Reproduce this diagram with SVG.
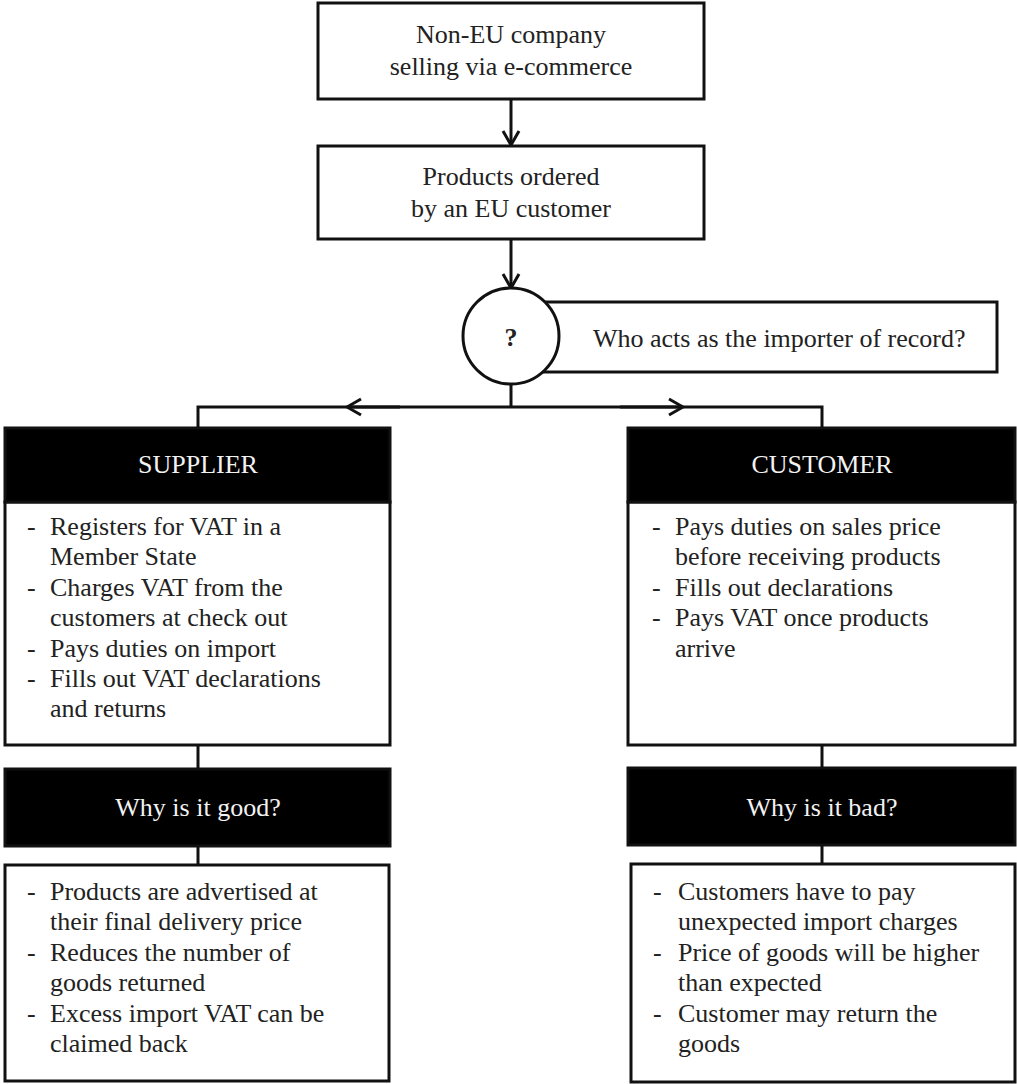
<svg xmlns="http://www.w3.org/2000/svg" width="1017" height="1084" viewBox="0 0 1017 1084">
  <style>
    text { font-family: "Liberation Serif", "Times New Roman", serif; font-size: 26px; fill: #222; }
    .c { text-anchor: middle; }
    .hd { fill: #f2f2f2; }
    .box { fill: #fff; stroke: #111; stroke-width: 3; }
    .head { fill: #000; stroke: #111; stroke-width: 3; }
    .ln { fill: none; stroke: #111; stroke-width: 3; }
  </style>
  <defs>
    <marker id="open" viewBox="0 0 20 20" refX="18" refY="10" markerWidth="20" markerHeight="20" markerUnits="userSpaceOnUse" orient="auto">
      <path d="M4,2 L18,10 L4,18" fill="none" stroke="#111" stroke-width="3"/>
    </marker>
  </defs>

  <!-- connectors -->
  <g id="connectors">
    <line class="ln" x1="511" y1="99" x2="511" y2="145" marker-end="url(#open)"/>
    <line class="ln" x1="511" y1="239" x2="511" y2="288" marker-end="url(#open)"/>
    <line class="ln" x1="511" y1="384" x2="511" y2="407"/>
    <polyline class="ln" points="511,407 198,407 198,428"/>
    <polyline class="ln" points="511,407 822,407 822,428"/>
    <line class="ln" x1="400" y1="407" x2="347" y2="407" marker-end="url(#open)"/>
    <line class="ln" x1="620" y1="407" x2="683" y2="407" marker-end="url(#open)"/>
    <line class="ln" x1="198" y1="745" x2="198" y2="769"/>
    <line class="ln" x1="198" y1="846" x2="198" y2="865"/>
    <line class="ln" x1="822" y1="745" x2="822" y2="768"/>
    <line class="ln" x1="822" y1="845" x2="822" y2="864"/>
  </g>

  <g id="start">
    <rect class="box" x="318" y="3" width="386" height="96"/>
    <text class="c" x="511" y="43">Non-EU company</text>
    <text class="c" x="511" y="75">selling via e-commerce</text>
  </g>

  <g id="ordered">
    <rect class="box" x="318" y="146" width="386" height="93"/>
    <text class="c" x="511" y="185">Products ordered</text>
    <text class="c" x="511" y="217">by an EU customer</text>
  </g>

  <g id="question">
    <rect class="box" x="520" y="302" width="477" height="70"/>
    <text x="593" y="347">Who acts as the importer of record?</text>
    <circle class="box" cx="511" cy="336" r="48"/>
    <text class="c" x="511" y="346" font-weight="bold">?</text>
  </g>

  <g id="supplier">
    <rect class="box" x="5" y="502" width="385" height="243"/>
    <rect class="head" x="5" y="428" width="385" height="74"/>
    <text class="c hd" x="198" y="473">SUPPLIER</text>
    <text x="27" y="535">-</text><text x="50" y="535">Registers for VAT in a</text>
    <text x="50" y="565">Member State</text>
    <text x="27" y="596">-</text><text x="50" y="596">Charges VAT from the</text>
    <text x="50" y="626">customers at check out</text>
    <text x="27" y="657">-</text><text x="50" y="657">Pays duties on import</text>
    <text x="27" y="687">-</text><text x="50" y="687">Fills out VAT declarations</text>
    <text x="50" y="717">and returns</text>
  </g>

  <g id="customer">
    <rect class="box" x="628" y="502" width="387" height="243"/>
    <rect class="head" x="628" y="428" width="387" height="74"/>
    <text class="c hd" x="822" y="473">CUSTOMER</text>
    <text x="652" y="535">-</text><text x="675" y="535">Pays duties on sales price</text>
    <text x="675" y="565">before receiving products</text>
    <text x="652" y="596">-</text><text x="675" y="596">Fills out declarations</text>
    <text x="652" y="626">-</text><text x="675" y="626">Pays VAT once products</text>
    <text x="675" y="657">arrive</text>
  </g>

  <g id="good-head">
    <rect class="head" x="5" y="769" width="385" height="77"/>
    <text class="c hd" x="198" y="816">Why is it good?</text>
  </g>

  <g id="good">
    <rect class="box" x="5" y="865" width="384" height="216"/>
    <text x="27" y="900">-</text><text x="50" y="900">Products are advertised at</text>
    <text x="50" y="930">their final delivery price</text>
    <text x="27" y="961">-</text><text x="50" y="961">Reduces the number of</text>
    <text x="50" y="991">goods returned</text>
    <text x="27" y="1022">-</text><text x="50" y="1022">Excess import VAT can be</text>
    <text x="50" y="1052">claimed back</text>
  </g>

  <g id="bad-head">
    <rect class="head" x="628" y="768" width="387" height="77"/>
    <text class="c hd" x="822" y="816">Why is it bad?</text>
  </g>

  <g id="bad">
    <rect class="box" x="631" y="864" width="384" height="218"/>
    <text x="653" y="900">-</text><text x="678" y="900">Customers have to pay</text>
    <text x="678" y="930">unexpected import charges</text>
    <text x="653" y="961">-</text><text x="678" y="961">Price of goods will be higher</text>
    <text x="678" y="991">than expected</text>
    <text x="653" y="1022">-</text><text x="678" y="1022">Customer may return the</text>
    <text x="678" y="1052">goods</text>
  </g>
</svg>
